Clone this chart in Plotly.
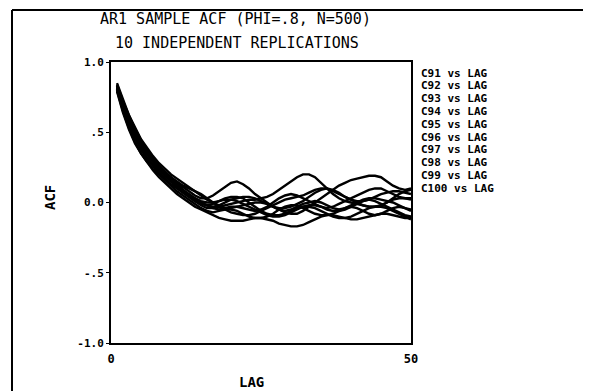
import plotly.graph_objects as go

lags = list(range(1, 51))

c91 = [0.83,0.70,0.59,0.50,0.43,0.37,0.31,0.26,0.22,0.18,
       0.14,0.11,0.08,0.05,0.03,0.03,0.05,0.08,0.11,0.14,
       0.15,0.13,0.10,0.06,0.03,0.00,-0.03,-0.05,-0.06,-0.05,
       -0.03,-0.01,0.00,0.01,0.00,-0.02,-0.04,-0.05,-0.04,-0.02,
       0.00,0.02,0.03,0.03,0.02,0.01,0.00,-0.02,-0.04,-0.05]
c92 = [0.81,0.67,0.55,0.46,0.38,0.31,0.26,0.21,0.17,0.13,
       0.10,0.07,0.04,0.01,-0.02,-0.04,-0.04,-0.03,-0.02,-0.01,
       0.00,0.01,0.02,0.02,0.03,0.04,0.06,0.09,0.12,0.15,
       0.18,0.20,0.20,0.18,0.14,0.10,0.06,0.03,0.01,0.00,
       -0.01,-0.02,-0.03,-0.03,-0.02,0.00,0.02,0.03,0.03,0.02]
c93 = [0.84,0.72,0.62,0.53,0.45,0.39,0.33,0.28,0.24,0.20,
       0.17,0.14,0.11,0.08,0.05,0.02,0.00,-0.02,-0.04,-0.04,
       -0.03,-0.02,-0.01,0.00,0.00,-0.01,-0.03,-0.05,-0.07,-0.08,
       -0.08,-0.06,-0.03,0.00,0.03,0.06,0.09,0.12,0.14,0.16,
       0.17,0.18,0.19,0.19,0.18,0.15,0.12,0.10,0.09,0.10]
c94 = [0.80,0.65,0.53,0.43,0.35,0.29,0.23,0.18,0.14,0.10,
       0.06,0.03,0.00,-0.03,-0.05,-0.07,-0.09,-0.11,-0.12,-0.13,
       -0.13,-0.13,-0.12,-0.11,-0.11,-0.12,-0.13,-0.15,-0.16,-0.17,
       -0.17,-0.16,-0.14,-0.12,-0.10,-0.09,-0.09,-0.10,-0.11,-0.12,
       -0.12,-0.11,-0.10,-0.09,-0.08,-0.08,-0.09,-0.10,-0.11,-0.11]
c95 = [0.82,0.68,0.57,0.48,0.40,0.34,0.29,0.25,0.21,0.18,
       0.15,0.12,0.10,0.08,0.06,0.03,0.00,-0.03,-0.05,-0.07,
       -0.08,-0.09,-0.09,-0.08,-0.06,-0.04,-0.02,0.00,0.02,0.03,
       0.04,0.05,0.07,0.09,0.10,0.10,0.08,0.06,0.04,0.02,
       0.01,0.01,0.02,0.04,0.06,0.07,0.08,0.08,0.07,0.06]
c96 = [0.82,0.69,0.58,0.49,0.41,0.35,0.29,0.24,0.19,0.15,
       0.11,0.08,0.05,0.03,0.01,0.00,0.00,0.01,0.02,0.02,
       0.01,-0.01,-0.03,-0.05,-0.07,-0.09,-0.10,-0.10,-0.09,-0.07,
       -0.05,-0.03,-0.02,-0.02,-0.03,-0.05,-0.06,-0.06,-0.05,-0.03,
       -0.01,0.01,0.02,0.01,-0.01,-0.03,-0.05,-0.07,-0.09,-0.10]
c97 = [0.85,0.73,0.62,0.52,0.44,0.37,0.31,0.26,0.21,0.17,
       0.13,0.09,0.06,0.03,0.00,-0.02,-0.03,-0.02,0.00,0.02,
       0.03,0.04,0.04,0.03,0.01,-0.01,-0.03,-0.04,-0.04,-0.03,
       -0.01,0.01,0.04,0.07,0.09,0.10,0.09,0.07,0.04,0.02,
       0.00,-0.02,-0.03,-0.03,-0.02,0.00,0.03,0.06,0.08,0.09]
c98 = [0.79,0.64,0.52,0.42,0.35,0.29,0.24,0.20,0.16,0.12,
       0.08,0.05,0.02,-0.01,-0.04,-0.06,-0.07,-0.06,-0.05,-0.05,
       -0.06,-0.08,-0.10,-0.11,-0.11,-0.10,-0.08,-0.05,-0.03,-0.02,
       -0.02,-0.04,-0.06,-0.08,-0.09,-0.09,-0.08,-0.06,-0.04,-0.03,
       -0.04,-0.06,-0.08,-0.09,-0.08,-0.06,-0.04,-0.03,-0.04,-0.06]
c99 = [0.83,0.69,0.58,0.49,0.42,0.36,0.30,0.25,0.21,0.17,
       0.13,0.09,0.05,0.02,0.00,-0.02,-0.04,-0.05,-0.04,-0.03,
       -0.03,-0.04,-0.05,-0.06,-0.05,-0.03,0.00,0.03,0.05,0.06,
       0.05,0.03,0.01,-0.01,-0.03,-0.04,-0.03,-0.01,0.01,0.03,
       0.05,0.07,0.09,0.10,0.10,0.08,0.06,0.04,0.03,0.03]
c100 = [0.81,0.67,0.56,0.46,0.38,0.32,0.27,0.23,0.19,0.15,
        0.11,0.07,0.04,0.01,-0.01,-0.02,-0.01,0.01,0.03,0.04,
        0.04,0.03,0.00,-0.03,-0.06,-0.08,-0.09,-0.09,-0.08,-0.06,
        -0.04,-0.03,-0.03,-0.04,-0.06,-0.08,-0.10,-0.11,-0.11,-0.10,
        -0.08,-0.06,-0.04,-0.03,-0.03,-0.04,-0.06,-0.08,-0.10,-0.12]

series_names = ["C91", "C92", "C93", "C94", "C95", "C96", "C97", "C98", "C99", "C100"]
series_values = [c91, c92, c93, c94, c95, c96, c97, c98, c99, c100]

y_tickvals = [1.0, 0.5, 0.0, -0.5, -1.0]
y_ticktext = ["1.0", ".5", "0.0", "-.5", "-1.0"]
x_tickvals = [0, 50]
x_ticktext = ["0", "50"]

title1 = "AR1 SAMPLE ACF (PHI=.8, N=500)"
title2 = "10 INDEPENDENT REPLICATIONS"

# page has an 8px body margin; work in screenshot pixels and subtract it
OFF = 8
W, H = 591 - OFF, 391 - OFF
L, R, T, B = 111 - OFF, 411 - OFF, 62 - OFF, 343 - OFF
MONO = "DejaVu Sans Mono"


def xp(px):
    return (px - OFF - L) / (R - L)


def yp(py):
    return (B - (py - OFF)) / (B - T)


fig = go.Figure()
for name, vals in zip(series_names, series_values):
    fig.add_trace(go.Scatter(x=lags, y=vals, mode="lines", name=name,
                             line=dict(color="black", width=2.4),
                             showlegend=False))

annotations = []
for text, x, y in [(title1, 235, 19), (title2, 237, 43)]:
    annotations.append(dict(text=text, x=xp(x), y=yp(y), xref="paper", yref="paper",
                            showarrow=False, xanchor="center", yanchor="middle",
                            font=dict(family=MONO, size=15, color="black")))
for i, name in enumerate(series_names):
    annotations.append(dict(text=f"{name} vs LAG", x=xp(419), y=yp(73 + 12.8 * i),
                            xref="paper", yref="paper", showarrow=False,
                            xanchor="left", yanchor="middle",
                            font=dict(family=MONO, size=11, color="black", weight="bold")))
annotations.append(dict(text="ACF", x=xp(50), y=yp(198), xref="paper", yref="paper",
                        showarrow=False, textangle=-90, xanchor="center", yanchor="middle",
                        font=dict(family=MONO, size=14, color="black", weight="bold")))
annotations.append(dict(text="LAG", x=xp(251), y=yp(382), xref="paper", yref="paper",
                        showarrow=False, xanchor="center", yanchor="middle",
                        font=dict(family=MONO, size=14, color="black", weight="bold")))

shapes = [
    dict(type="line", xref="paper", yref="paper", x0=xp(12), x1=xp(600), y0=yp(10), y1=yp(10),
         line=dict(color="black", width=2), layer="below"),
    dict(type="line", xref="paper", yref="paper", x0=xp(12), x1=xp(12), y0=yp(10), y1=yp(400),
         line=dict(color="black", width=2), layer="below"),
]

fig.update_layout(
    width=W, height=H,
    margin=dict(l=L, r=W - R, t=T, b=H - B, pad=0),
    paper_bgcolor="white", plot_bgcolor="white",
    annotations=annotations, shapes=shapes,
    showlegend=False,
)
fig.update_xaxes(range=[0, 50], tickvals=x_tickvals, ticktext=x_ticktext,
                 showgrid=False, zeroline=False, showline=True, linecolor="black",
                 linewidth=2, mirror=True, ticks="", ticklabelstandoff=4,
                 tickfont=dict(family=MONO, size=12, color="black", weight="bold"))
fig.update_yaxes(range=[-1, 1], tickvals=y_tickvals, ticktext=y_ticktext,
                 showgrid=False, zeroline=False, showline=True, linecolor="black",
                 linewidth=2, mirror=True, ticks="outside", ticklen=3, tickcolor="black",
                 tickfont=dict(family=MONO, size=11, color="black", weight="bold"))

fig.write_html("out.html")
